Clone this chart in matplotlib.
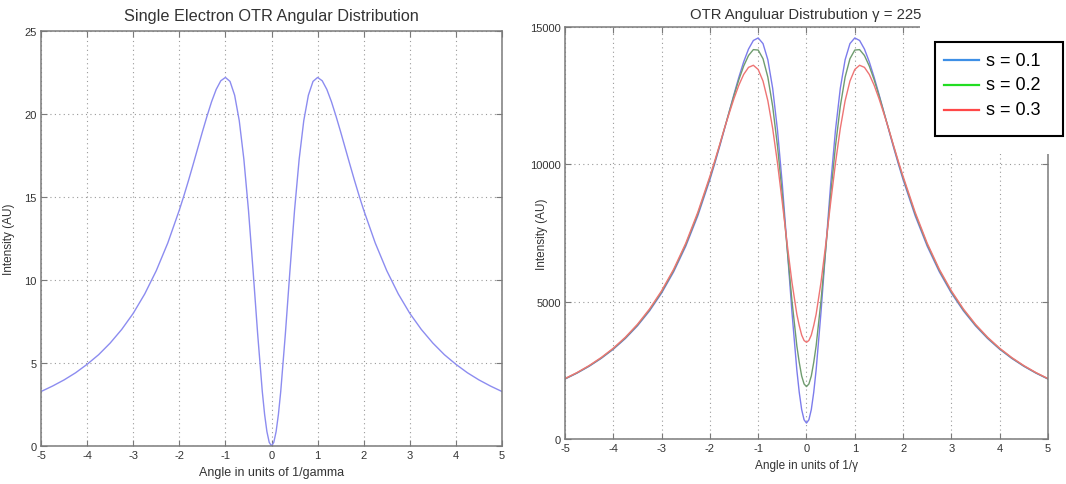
import numpy as np
import matplotlib
matplotlib.use("Agg")
import matplotlib.pyplot as plt
from matplotlib.patches import Rectangle
from matplotlib.lines import Line2D

plt.rcParams["font.family"] = ["Liberation Sans", "DejaVu Sans"]
plt.rcParams["axes.unicode_minus"] = False

# angle in units of 1/gamma
angle = [-5.0, -4.75, -4.5, -4.25, -4.0, -3.75, -3.5, -3.25, -3.0, -2.75, -2.5, -2.25,
         -2.0, -1.9, -1.8, -1.7, -1.6, -1.5, -1.4, -1.3, -1.2, -1.1,
         -1.0, -0.9, -0.8, -0.7, -0.6, -0.5, -0.4, -0.3, -0.2, -0.15, -0.1, -0.05,
         0.0,
         0.05, 0.1, 0.15, 0.2, 0.3, 0.4, 0.5, 0.6, 0.7, 0.8, 0.9, 1.0,
         1.1, 1.2, 1.3, 1.4, 1.5, 1.6, 1.7, 1.8, 1.9, 2.0,
         2.25, 2.5, 2.75, 3.0, 3.25, 3.5, 3.75, 4.0, 4.25, 4.5, 4.75, 5.0]

# single electron intensity (AU)
single = [3.28, 3.61, 3.98, 4.41, 4.92, 5.50, 6.20, 7.02, 7.99, 9.16, 10.56, 12.23,
          14.21, 15.08, 16.00, 16.96, 17.94, 18.92, 19.86, 20.74, 21.48, 22.00,
          22.20, 21.96, 21.13, 19.60, 17.28, 14.21, 10.56, 6.73, 3.28, 1.91, 0.87, 0.22,
          0.00,
          0.22, 0.87, 1.91, 3.28, 6.73, 10.56, 14.21, 17.28, 19.60, 21.13, 21.96, 22.20,
          22.00, 21.48, 20.74, 19.86, 18.92, 17.94, 16.96, 16.00, 15.08, 14.21,
          12.23, 10.56, 9.16, 7.99, 7.02, 6.20, 5.50, 4.92, 4.41, 3.98, 3.61, 3.28]

# gamma = 225 distributions for three spreads s
otr_s01 = [2182, 2398, 2646, 2933, 3266, 3657, 4117, 4662, 5310, 6086, 7015, 8127,
           9440, 10022, 10633, 11268, 11918, 12556, 13172, 13732, 14196, 14508,
           14601, 14395, 13807, 12767, 11240, 9260, 6964, 4601, 2515, 1700, 1072, 700,
           580,
           700, 1072, 1700, 2515, 4601, 6964, 9260, 11240, 12767, 13807, 14395, 14601,
           14508, 14196, 13732, 13172, 12556, 11918, 11268, 10633, 10022, 9440,
           8127, 7015, 6086, 5310, 4662, 4117, 3657, 3266, 2933, 2646, 2398, 2182]

otr_s02 = [2190, 2408, 2658, 2948, 3284, 3679, 4144, 4695, 5351, 6135, 7073, 8192,
           9504, 10080, 10680, 11298, 11907, 12513, 13082, 13579, 13962, 14176,
           14160, 13845, 13175, 12111, 10659, 8888, 6938, 5023, 3394, 2790, 2295, 2004,
           1907,
           2004, 2295, 2790, 3394, 5023, 6938, 8888, 10659, 12111, 13175, 13845, 14160,
           14176, 13962, 13579, 13082, 12513, 11907, 11298, 10680, 10080, 9504,
           8192, 7073, 6135, 5351, 4695, 4144, 3679, 3284, 2948, 2658, 2408, 2190]

otr_s03 = [2200, 2420, 2673, 2966, 3306, 3705, 4175, 4732, 5395, 6181, 7125, 8255,
           9563, 10120, 10702, 11300, 11857, 12399, 12883, 13274, 13530, 13606,
           13453, 13031, 12315, 11306, 10042, 8600, 7102, 5697, 4543, 4130, 3785, 3586,
           3520,
           3586, 3785, 4130, 4543, 5697, 7102, 8600, 10042, 11306, 12315, 13031, 13453,
           13606, 13530, 13274, 12883, 12399, 11857, 11300, 10702, 10120, 9563,
           8255, 7125, 6181, 5395, 4732, 4175, 3705, 3306, 2966, 2673, 2420, 2200]

spread_labels = ["s = 0.1", "s = 0.2", "s = 0.3"]
line_colors = ["#7c7cec", "#6f9c6f", "#ee7474"]
key_colors = ["#3d8fe6", "#22dd22", "#ff4848"]

x_ticks = [-5, -4, -3, -2, -1, 0, 1, 2, 3, 4, 5]


def style_axes(ax):
    for sp in ax.spines.values():
        sp.set_color("#7a7a7a")
        sp.set_linewidth(1.1)
    ax.tick_params(direction="in", length=4, width=0.8, color="#7a7a7a",
                   labelsize=8, labelcolor="#333333", top=True, right=True, pad=3)
    ax.grid(True, linestyle=(0, (1, 3)), color="#9a9a9a", linewidth=0.8)
    ax.set_xlim(-5, 5)
    ax.set_xticks(x_ticks)


fig = plt.figure(figsize=(10.66, 4.85), dpi=100)
W, H = 1066.0, 485.0

# left: single electron
ax1 = fig.add_axes([0.0385, 0.0784, 0.4324, 0.8557])
ax1.plot(angle, single, color="#8c8cf0", linewidth=1.0)
style_axes(ax1)
ax1.set_ylim(0, 25)
ax1.set_yticks([0, 5, 10, 15, 20, 25])
ax1.set_title("Single Electron OTR Angular Distribution", fontsize=11.7,
              color="#333333", pad=8)
ax1.set_xlabel("Angle in units of 1/gamma", fontsize=9, color="#333333", labelpad=4)
ax1.set_ylabel("Intensity (AU)", fontsize=8.5, color="#333333")
ax1.yaxis.set_label_coords(-0.057, 0.5)

# right: gamma = 225 with spread
ax2 = fig.add_axes([0.530, 0.0928, 0.4531, 0.8495])
for ys, c in zip([otr_s01, otr_s02, otr_s03], line_colors):
    ax2.plot(angle, ys, color=c, linewidth=1.0)
style_axes(ax2)
ax2.set_ylim(0, 15000)
ax2.set_yticks([0, 5000, 10000, 15000])
ax2.set_xlabel("Angle in units of 1/γ", fontsize=8.5, color="#333333", labelpad=4)
ax2.set_ylabel("Intensity (AU)", fontsize=8.5, color="#333333")
ax2.yaxis.set_label_coords(-0.036, 0.5)
# title kept above the white corner patch
fig.text(806 / W, 1 - 15 / H, "OTR Anguluar Distrubution γ = 225", fontsize=10.7,
         color="#333333", ha="center", va="center", zorder=8)

# key pasted over the top-right corner
fig.patches.append(Rectangle((920 / W, 1 - 155 / H), 146 / W, 155 / H,
                             transform=fig.transFigure, facecolor="white",
                             edgecolor="none", zorder=5))
fig.patches.append(Rectangle((935 / W, 1 - 137 / H), 128 / W, 94 / H,
                             transform=fig.transFigure, facecolor="white",
                             edgecolor="black", linewidth=1.5, zorder=6))
for i, (lab, c) in enumerate(zip(spread_labels, key_colors)):
    yy = 1 - (61 + 25 * i) / H
    fig.lines.append(Line2D([944 / W, 979 / W], [yy, yy], transform=fig.transFigure,
                            color=c, linewidth=1.6, zorder=7))
    fig.text(986 / W, yy, lab, fontsize=13, va="center", ha="left",
             color="black", zorder=7)

fig.savefig("out.png", dpi=100)
